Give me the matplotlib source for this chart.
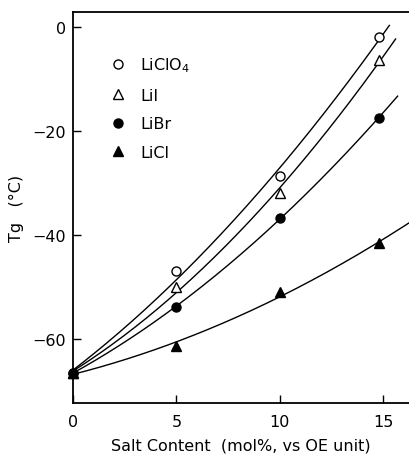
import matplotlib
matplotlib.use("Agg")
import matplotlib.pyplot as plt
import numpy as np

plt.rcParams["font.family"] = ["DejaVu Sans"]

# data
salt = [0, 5, 10, 14.8]
labels = ["LiClO$_4$", "LiI", "LiBr", "LiCl"]
tg_liclo4 = [-66.5, -47.0, -28.7, -1.9]
tg_lii = [-66.5, -50.0, -32.0, -6.4]
tg_libr = [-66.5, -53.8, -36.8, -17.4]
tg_licl = [-66.5, -61.4, -51.0, -41.6]
curve_end = [15.3, 15.6, 15.7, 16.3]

series = [tg_liclo4, tg_lii, tg_libr, tg_licl]
markers = ["o", "^", "o", "^"]
fills = ["white", "white", "black", "black"]

fig = plt.figure(figsize=(4.09, 4.60), dpi=100)
ax = fig.add_axes([73 / 409, 56 / 460, 336 / 409, 391 / 460])

for ys, end, lab, m, fc in zip(series, curve_end, labels, markers, fills):
    coef = np.polyfit(salt, ys, 2)
    xs = np.linspace(0, end, 200)
    ax.plot(xs, np.polyval(coef, xs), color="black", lw=1.0, zorder=2)
    ax.plot(salt, ys, linestyle="none", marker=m, ms=6.5,
            mfc=fc, mec="black", mew=1.0, label=lab, zorder=3, clip_on=False)

ax.set_xlim(0, 16.25)
ax.set_ylim(-72.3, 2.9)
ax.set_xticks([0, 5, 10, 15])
ax.set_yticks([0, -20, -40, -60])
ax.set_yticklabels(["0", "\u221220", "\u221240", "\u221260"])
ax.tick_params(direction="in", length=6, width=1.0, labelsize=11.5, pad=5)
ax.tick_params(axis="x", pad=8)
for sp in ax.spines.values():
    sp.set_linewidth(1.3)
ax.spines["right"].set_visible(False)

ax.set_xlabel("Salt Content  (mol%, vs OE unit)", fontsize=11.5, labelpad=6)
ax.set_ylabel("Tg   (\u00b0C)", fontsize=11.5, labelpad=6)

leg = ax.legend(loc="upper left", bbox_to_anchor=(0.09, 0.905), frameon=False,
                fontsize=11.5, handletextpad=0.9, labelspacing=0.85,
                handlelength=1.0, borderaxespad=0)

fig.savefig("out.png", dpi=100)
